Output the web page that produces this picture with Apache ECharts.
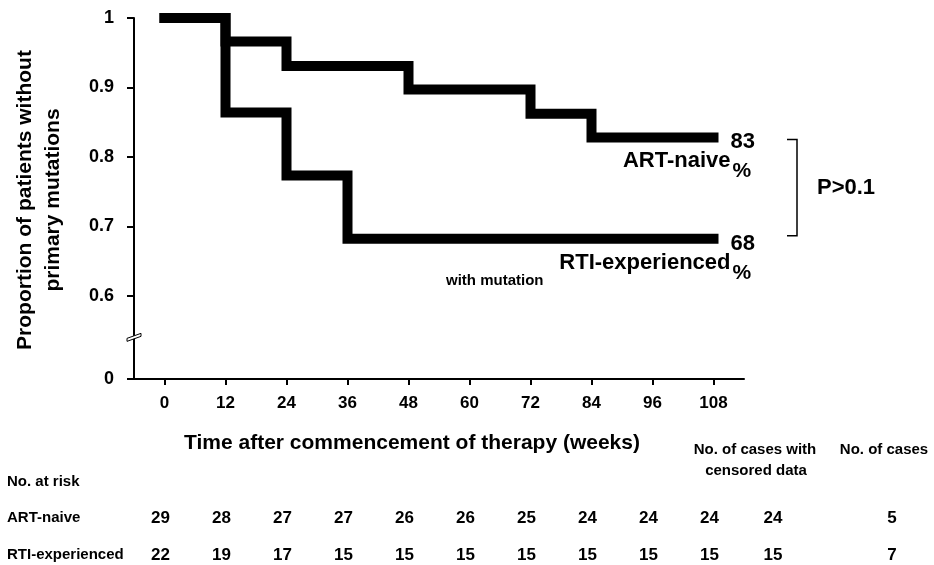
<!DOCTYPE html>
<html>
<head>
<meta charset="utf-8">
<script src="https://cdn.jsdelivr.net/npm/echarts@6/dist/echarts.min.js"></script>
<style>
  html, body { margin: 0; padding: 0; background: #fff; }
  #chart { width: 934px; height: 565px; }
</style>
</head>
<body>
<div id="chart"></div>
<script>
// Kaplan-Meier estimates of the proportion of patients without primary mutations
const weekTicks = [0, 12, 24, 36, 48, 60, 72, 84, 96, 108];
const artTimes = [0, 12, 24, 48, 72, 84, 108];
const artSurvival = [1, 0.966, 0.931, 0.897, 0.862, 0.828, 0.828];
const rtiTimes = [0, 12, 24, 36, 108];
const rtiSurvival = [1, 0.864, 0.773, 0.682, 0.682];

// broken y axis: the lowest tick stands for 0
const yTickValues = [0.48, 0.6, 0.7, 0.8, 0.9, 1];
const yTickLabels = ['0', '0.6', '0.7', '0.8', '0.9', '1'];
const yBreakValue = 0.54;

const groupNames = ['ART-naive', 'RTI-experienced'];
const mutationNote = 'with mutation';
const pValueText = 'P>0.1';

// numbers at risk at each tick, then censored and total cases
const artAtRisk = [29, 28, 27, 27, 26, 26, 25, 24, 24, 24];
const rtiAtRisk = [22, 19, 17, 15, 15, 15, 15, 15, 15, 15];
const censoredCounts = [24, 15];
const caseCounts = [5, 7];

const FONT = "'Liberation Sans', Arial, Helvetica, sans-serif";
const chart = echarts.init(document.getElementById('chart'), null, { renderer: 'canvas' });

function stepLine(times, values) {
  return {
    type: 'line',
    step: 'end',
    data: times.map((t, i) => [t, values[i]]),
    symbol: 'none',
    showSymbol: false,
    silent: true,
    lineStyle: { color: '#000', width: 10, cap: 'square', join: 'miter' },
    z: 3
  };
}

chart.setOption({
  animation: false,
  backgroundColor: '#fff',
  grid: { left: 134, right: 190, top: 18, bottom: 186, containLabel: false },
  xAxis: {
    type: 'value',
    min: -6,
    max: 114,
    splitLine: { show: false },
    axisLine: { show: true, onZero: false, lineStyle: { color: '#000', width: 2 } },
    axisTick: { show: true, customValues: weekTicks, length: 6, lineStyle: { color: '#000', width: 2 } },
    axisLabel: {
      customValues: weekTicks,
      margin: 16,
      color: '#000',
      fontFamily: FONT,
      fontWeight: 'bold',
      fontSize: 17
    }
  },
  yAxis: {
    type: 'value',
    min: yTickValues[0],
    max: 1,
    splitLine: { show: false },
    axisLine: { show: true, onZero: false, lineStyle: { color: '#000', width: 2 } },
    axisTick: { show: true, customValues: yTickValues, length: 7, lineStyle: { color: '#000', width: 2 } },
    axisLabel: {
      customValues: yTickValues,
      margin: 20,
      color: '#000',
      fontFamily: FONT,
      fontWeight: 'bold',
      fontSize: 18,
      formatter: function (v) {
        const i = yTickValues.findIndex(t => Math.abs(t - v) < 1e-6);
        return i >= 0 ? yTickLabels[i] : '';
      }
    }
  },
  series: [stepLine(rtiTimes, rtiSurvival), stepLine(artTimes, artSurvival)]
});

const px = (x, y) => chart.convertToPixel({ gridIndex: 0 }, [x, y]);

function txt(x, y, text, size, align, extra) {
  return Object.assign({
    type: 'text',
    x: x, y: y,
    silent: true,
    style: {
      text: text,
      fill: '#000',
      font: 'bold ' + size + 'px ' + FONT,
      align: align || 'left',
      verticalAlign: 'middle'
    },
    z: 10
  }, extra || {});
}

const g = [];

// y axis title
g.push({
  type: 'text',
  x: 39, y: 200,
  rotation: Math.PI / 2,
  silent: true,
  style: {
    text: 'Proportion of patients without\nprimary mutations',
    fill: '#000',
    font: 'bold 21px ' + FONT,
    align: 'center',
    verticalAlign: 'middle',
    lineHeight: 28
  }
});

// x axis title
g.push(txt(412, 443, 'Time after commencement of therapy (weeks)', 21, 'center'));

// axis break mark
const brk = px(-6, yBreakValue);
g.push({
  type: 'polygon',
  silent: true,
  shape: { points: [[brk[0] - 7, brk[1] + 1], [brk[0] + 7, brk[1] - 4], [brk[0] + 7, brk[1] - 1], [brk[0] - 7, brk[1] + 4]] },
  style: { fill: '#fff', stroke: '#000', lineWidth: 1 },
  z: 10
});

// end-of-curve labels
const ends = [
  { t: artTimes[artTimes.length - 1], v: artSurvival[artSurvival.length - 1], name: groupNames[0] },
  { t: rtiTimes[rtiTimes.length - 1], v: rtiSurvival[rtiSurvival.length - 1], name: groupNames[1] }
];
const endPx = ends.map(e => px(e.t, e.v));
ends.forEach((e, i) => {
  const p = endPx[i];
  g.push(txt(p[0] + 17, p[1] + 5, String(Math.round(e.v * 100)), 22, 'left'));
  g.push(txt(p[0] + 19, p[1] + 34, '%', 21, 'left'));
  g.push(txt(p[0] + 17, p[1] + 24, e.name, 22, 'right'));
});
g.push(txt(endPx[1][0] - 170, endPx[1][1] + 42, mutationNote, 15, 'right'));

// bracket joining the two end values
const bx = 797;
const bTop = endPx[0][1] + 2, bBot = endPx[1][1] - 3;
g.push({
  type: 'polyline',
  silent: true,
  shape: { points: [[bx - 10, bTop], [bx, bTop], [bx, bBot], [bx - 10, bBot]] },
  style: { stroke: '#000', lineWidth: 1.5, fill: null },
  z: 10
});
g.push(txt(817, (bTop + bBot) / 2, pValueText, 22, 'left'));

// number-at-risk table
const colX = weekTicks.map(w => px(w, yTickValues[0])[0] - 4).concat([773, 892]);
g.push(txt(7, 482, 'No. at risk', 15, 'left'));
g.push(txt(755, 450, 'No. of cases with', 15, 'center'));
g.push(txt(756, 471, 'censored data', 15, 'center'));
g.push(txt(884, 450, 'No. of cases', 15, 'center'));
const rows = [
  { y: 518, label: groupNames[0], values: artAtRisk.concat([censoredCounts[0], caseCounts[0]]) },
  { y: 555, label: groupNames[1], values: rtiAtRisk.concat([censoredCounts[1], caseCounts[1]]) }
];
rows.forEach(r => {
  g.push(txt(7, r.y, r.label, 15, 'left'));
  r.values.forEach((v, i) => g.push(txt(colX[i], r.y, String(v), 17, 'center')));
});

chart.setOption({ graphic: { elements: g } });
</script>
</body>
</html>
